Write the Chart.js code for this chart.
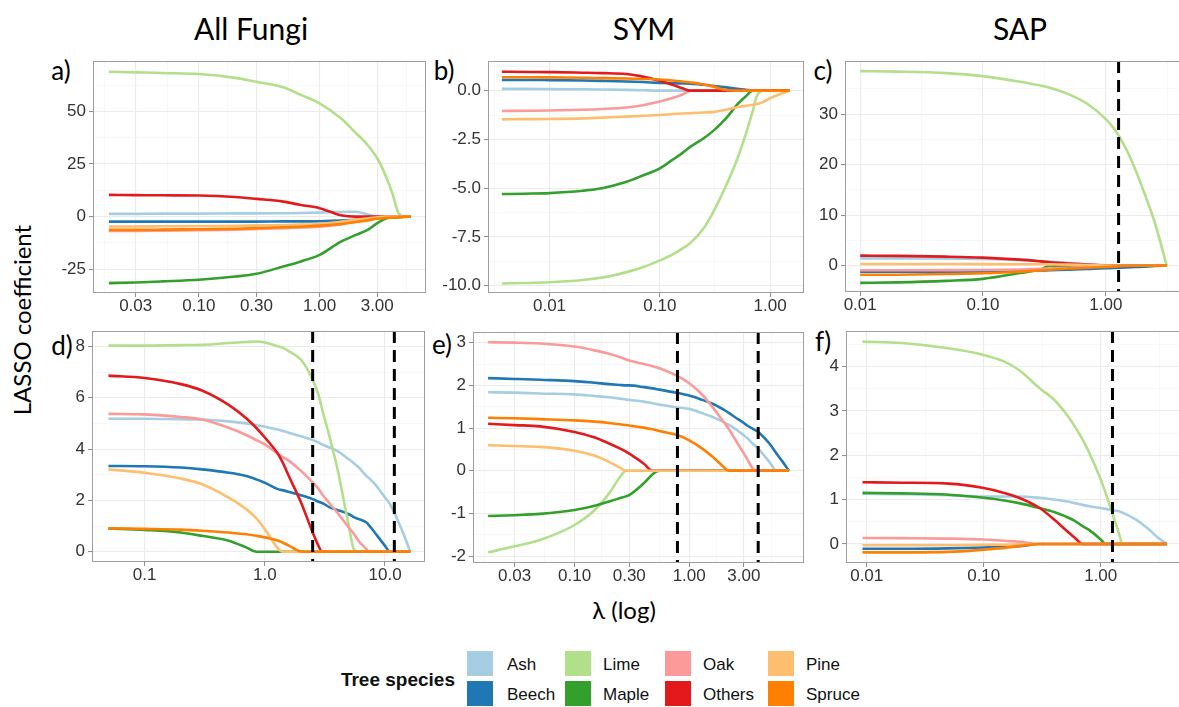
<!DOCTYPE html>
<html><head><meta charset="utf-8">
<script src="https://cdn.jsdelivr.net/npm/chart.js@4.4.1/dist/chart.umd.min.js"></script>
<style>
html,body{margin:0;padding:0;background:#fff;}
body{width:1179px;height:707px;position:relative;overflow:hidden;}
canvas{position:absolute;}
.t{position:absolute;transform:translate(-50%,-50%);white-space:nowrap;color:#000;line-height:1;}
.ttl{font-family:Lato,'Open Sans',sans-serif;font-size:30px;}
.pl{font-family:Lato,'Open Sans',sans-serif;font-size:26px;}
.ax{font-family:Lato,'Open Sans',sans-serif;font-size:24px;}
.lg{position:absolute;font-family:'Liberation Sans',Arial,sans-serif;font-size:17px;color:#111;line-height:1;transform:translateY(-50%);white-space:nowrap;}
.key{position:absolute;width:26px;height:25px;}
</style></head><body>

<div class="t ttl" style="left:251px;top:28px;">All Fungi</div>
<div class="t ttl" style="left:644px;top:28px;">SYM</div>
<div class="t ttl" style="left:1020px;top:28px;">SAP</div>
<div class="t pl" style="left:61px;top:70px;">a)</div>
<div class="t pl" style="left:444px;top:70px;">b)</div>
<div class="t pl" style="left:823px;top:70px;">c)</div>
<div class="t pl" style="left:62px;top:345px;">d)</div>
<div class="t pl" style="left:442px;top:344px;">e)</div>
<div class="t pl" style="left:823px;top:341px;">f)</div>
<div class="t ax" style="left:22px;top:320px;transform:translate(-50%,-50%) rotate(-90deg);">LASSO coefficient</div>
<div class="t ax" style="left:624px;top:610px;">λ (log)</div>
<div id="legend"></div>

<script>
// ---------- data ----------
const species = ['Ash','Beech','Lime','Maple','Oak','Others','Pine','Spruce'];
const colors  = ['#A6CEE3','#1F78B4','#B2DF8A','#33A02C','#FB9A99','#E31A1C','#FDBF6F','#FF7F00'];

// a) All Fungi (top)
const aLambda = [0.018,0.03,0.05,0.1,0.2,0.3,0.5,0.7,1.0,1.5,2.0,2.5,3.0,3.5,4.0,4.5,5.0,5.65];
const aAsh    = [1.3,1.3,1.4,1.4,1.5,1.5,1.6,1.7,1.9,2.2,2.3,1.0,0,0,0,0,0,0];
const aBeech  = [-2.4,-2.4,-2.4,-2.4,-2.4,-2.4,-2.3,-2.3,-2.2,-1.9,-1.5,-1.1,-0.7,-0.5,-0.3,-0.2,-0.1,0];
const aLime   = [68.8,68.5,68.2,67.7,65.9,64.0,61.4,57.8,53.8,46.7,39.6,34.0,27.7,19.8,11.1,1.6,0,0];
const aMaple  = [-31.6,-31.3,-30.8,-30.0,-28.5,-27.2,-23.7,-21.3,-18.2,-11.9,-8.7,-6.3,-3.1,-1.0,-0.5,-0.3,-0.1,0];
const aOak    = [-6.8,-6.8,-6.7,-6.5,-6.2,-5.9,-5.5,-5.2,-4.8,-3.7,-2.5,-1.4,-0.5,0,0,0,0,0];
const aOthers = [10.3,10.2,10.1,10.0,9.3,8.4,7.1,5.5,4.0,0.6,0,0,0,0,0,0,0,0];
const aPine   = [-4.7,-4.7,-4.6,-4.5,-4.4,-4.2,-4.0,-3.8,-3.5,-2.5,-1.5,-0.8,-0.3,0,0,0,0,0];
const aSpruce = [-6.3,-6.3,-6.2,-6.0,-5.8,-5.5,-5.1,-4.8,-4.3,-3.5,-2.6,-1.8,-1.0,-0.7,-0.5,-0.3,-0.15,0];
const aCut = [];

// b) SYM (top)
const bLambda = [0.0037,0.006,0.01,0.02,0.03,0.05,0.07,0.1,0.13,0.16,0.19,0.25,0.3,0.4,0.5,0.6,0.7,0.75,0.85,1.0,1.2,1.5];
const bAsh    = [0.09,0.09,0.08,0.07,0.06,0.04,0.02,0,0,0,0,0,0,0,0,0,0,0,0,0,0,0];
const bBeech  = [0.55,0.55,0.54,0.52,0.5,0.47,0.44,0.4,0.38,0.37,0.36,0.3,0.25,0.17,0.1,0.05,0.01,0,0,0,0,0];
const bLime   = [-9.88,-9.86,-9.82,-9.7,-9.58,-9.3,-9.05,-8.7,-8.4,-8.1,-7.8,-7.05,-6.3,-4.85,-3.55,-2.25,-1.0,-0.35,0,0,0,0];
const bMaple  = [-5.3,-5.28,-5.25,-5.13,-5.0,-4.67,-4.35,-3.98,-3.55,-3.2,-2.87,-2.44,-2.1,-1.41,-0.73,-0.3,0,0,0,0,0,0];
const bOak    = [-1.04,-1.03,-1.02,-0.98,-0.94,-0.86,-0.75,-0.56,-0.38,-0.2,0,0,0,0,0,0,0,0,0,0,0,0];
const bOthers = [0.97,0.96,0.95,0.92,0.9,0.85,0.72,0.51,0.3,0.12,0,0,0,0,0,0,0,0,0,0,0,0];
const bPine   = [-1.47,-1.46,-1.45,-1.42,-1.38,-1.33,-1.29,-1.25,-1.2,-1.17,-1.15,-1.12,-1.1,-0.98,-0.85,-0.78,-0.72,-0.7,-0.6,-0.39,-0.2,0];
const bSpruce = [0.69,0.69,0.68,0.66,0.64,0.62,0.6,0.57,0.52,0.47,0.42,0.32,0.22,0.03,0,0,0,0,0,0,0,0];
const bCut = [];

// c) SAP (top)
const cLambda = [0.01,0.02,0.05,0.1,0.2,0.3,0.35,0.5,0.7,1.0,1.15,1.3,1.6,2.0,2.5,3.13];
const cAsh    = [1.45,1.45,1.4,1.35,1.15,0.9,0.8,0.55,0.3,0.08,0,0,0,0,0,0];
const cBeech  = [-1.2,-1.2,-1.18,-1.15,-1.05,-0.95,-0.9,-0.8,-0.65,-0.5,-0.45,-0.4,-0.3,-0.2,-0.05,0];
const cLime   = [38.5,38.4,38.1,37.5,36.4,35.6,35.2,33.9,32.1,29.0,27.3,25.4,21.1,15.2,8.6,0];
const cMaple  = [-3.4,-3.3,-3.0,-2.6,-1.45,-0.65,0,0,0,0,0,0,0,0,0,0];
const cOak    = [-0.9,-0.9,-0.88,-0.85,-0.75,-0.62,-0.55,-0.4,-0.25,-0.05,0,0,0,0,0,0];
const cOthers = [2.0,1.95,1.8,1.6,1.2,0.85,0.7,0.45,0.25,0.05,0,0,0,0,0,0];
const cPine   = [0.33,0.33,0.33,0.32,0.3,0.28,0.26,0.22,0.15,0.05,0,0,0,0,0,0];
const cSpruce = [-1.8,-1.78,-1.65,-1.5,-1.2,-0.9,-0.8,-0.55,-0.4,-0.25,-0.18,-0.1,0,0,0,0];
const cCut = [1.27];

// d) All Fungi (bottom)
const dLambda = [0.05,0.1,0.2,0.3,0.5,0.7,0.85,1.0,1.3,1.4,1.6,2.0,2.5,2.8,3.0,3.5,4.0,5.0,5.5,6.0,7.0,7.3,8.0,10,11,13,15,16.2];
const dAsh    = [5.18,5.18,5.16,5.15,5.08,5.0,4.93,4.87,4.75,4.71,4.63,4.5,4.35,4.25,4.18,4.05,3.93,3.6,3.45,3.3,2.95,2.88,2.7,2.11,1.85,1.14,0.43,0];
const dBeech  = [3.34,3.33,3.28,3.21,3.08,2.95,2.82,2.69,2.43,2.4,2.33,2.2,2.05,1.95,1.9,1.72,1.63,1.46,1.35,1.28,1.14,1.05,0.82,0.23,0,0,0,0];
const dLime   = [8.03,8.03,8.05,8.06,8.13,8.17,8.19,8.15,8.0,7.95,7.8,7.48,6.7,6.1,5.54,4.38,3.27,1.0,0.1,0,0,0,0,0,0,0,0,0];
const dMaple  = [0.91,0.85,0.75,0.62,0.43,0.17,0,0,0,0,0,0,0,0,0,0,0,0,0,0,0,0,0,0,0,0,0,0];
const dOak    = [5.37,5.35,5.25,5.15,4.83,4.55,4.35,4.18,3.8,3.7,3.53,3.15,2.7,2.45,2.24,1.85,1.53,0.94,0.7,0.43,0.1,0,0,0,0,0,0,0];
const dOthers = [6.86,6.77,6.53,6.28,5.72,5.2,4.82,4.45,3.78,3.5,2.9,1.92,0.75,0.22,0,0,0,0,0,0,0,0,0,0,0,0,0,0];
const dPine   = [3.21,3.08,2.85,2.63,2.11,1.66,1.3,0.88,0.1,0,0,0,0,0,0,0,0,0,0,0,0,0,0,0,0,0,0,0];
const dSpruce = [0.91,0.89,0.86,0.82,0.75,0.68,0.62,0.56,0.43,0.36,0.23,0.01,0,0,0,0,0,0,0,0,0,0,0,0,0,0,0,0];
const dCut = [2.5, 11.95];

// e) SYM (bottom)
const eLambda = [0.0176,0.03,0.05,0.1,0.15,0.2,0.25,0.28,0.3,0.4,0.48,0.55,0.8,1.0,1.3,1.6,2.0,2.2,2.5,3.0,3.2,3.6,4.0,5.0,5.8,6.5,7.43];
const eAsh    = [1.84,1.83,1.81,1.79,1.75,1.72,1.69,1.67,1.66,1.62,1.58,1.55,1.48,1.45,1.35,1.26,1.14,1.08,0.99,0.83,0.77,0.63,0.52,0.21,0,0,0];
const eBeech  = [2.17,2.15,2.13,2.1,2.06,2.03,2.01,2.0,2.0,1.96,1.93,1.9,1.82,1.76,1.66,1.57,1.43,1.36,1.26,1.12,1.06,0.98,0.91,0.64,0.4,0.22,0];
const eLime   = [-1.91,-1.77,-1.62,-1.27,-0.92,-0.53,-0.14,0,0,0,0,0,0,0,0,0,0,0,0,0,0,0,0,0,0,0,0];
const eMaple  = [-1.06,-1.04,-1.01,-0.92,-0.82,-0.72,-0.64,-0.6,-0.57,-0.3,-0.08,0,0,0,0,0,0,0,0,0,0,0,0,0,0,0,0];
const eOak    = [3.01,3.0,2.98,2.91,2.82,2.74,2.66,2.61,2.58,2.5,2.45,2.4,2.21,2.05,1.78,1.49,1.14,0.99,0.75,0.4,0.28,0.05,0,0,0,0,0];
const eOthers = [1.1,1.07,1.04,0.91,0.78,0.64,0.52,0.45,0.4,0.17,0,0,0,0,0,0,0,0,0,0,0,0,0,0,0,0,0];
const ePine   = [0.6,0.58,0.56,0.47,0.35,0.21,0.07,0,0,0,0,0,0,0,0,0,0,0,0,0,0,0,0,0,0,0,0];
const eSpruce = [1.24,1.23,1.21,1.18,1.15,1.12,1.09,1.07,1.06,1.01,0.97,0.93,0.83,0.71,0.52,0.33,0.09,0,0,0,0,0,0,0,0,0,0];
const eCut = [0.79, 4.0];

// f) SAP (bottom)
const fLambda = [0.0092,0.02,0.05,0.1,0.15,0.2,0.3,0.4,0.5,0.6,0.7,0.8,1.0,1.1,1.2,1.4,1.55,2.0,2.5,3.0,3.67];
const fAsh    = [1.13,1.12,1.1,1.07,1.07,1.07,1.04,1.0,0.96,0.92,0.88,0.85,0.81,0.79,0.77,0.74,0.7,0.55,0.36,0.17,0];
const fBeech  = [-0.11,-0.11,-0.1,-0.08,-0.06,-0.05,0,0,0,0,0,0,0,0,0,0,0,0,0,0,0];
const fLime   = [4.56,4.53,4.41,4.26,4.11,3.92,3.51,3.25,2.95,2.65,2.35,2.05,1.45,1.15,0.85,0.32,0,0,0,0,0];
const fMaple  = [1.15,1.14,1.11,1.04,0.98,0.92,0.81,0.72,0.62,0.52,0.4,0.31,0.1,0,0,0,0,0,0,0,0];
const fOak    = [0.135,0.13,0.12,0.1,0.07,0.05,0,0,0,0,0,0,0,0,0,0,0,0,0,0,0];
const fOthers = [1.39,1.38,1.36,1.26,1.15,1.04,0.81,0.55,0.32,0.14,0,0,0,0,0,0,0,0,0,0,0];
const fPine   = [-0.03,-0.03,-0.03,-0.02,-0.02,-0.01,0,0,0,0,0,0,0,0,0,0,0,0,0,0,0];
const fSpruce = [-0.19,-0.19,-0.18,-0.13,-0.09,-0.05,0,0,0,0,0,0,0,0,0,0,0,0,0,0,0];
const fCut = [1.26];

// tick values and labels
const xTicks3 = [0.03,0.1,0.3,1,3];        const xLabels3 = ['0.03','0.10','0.30','1.00','3.00'];
const xTicks2 = [0.01,0.1,1];              const xLabels2 = ['0.01','0.10','1.00'];
const xTicksD = [0.1,1,10];                const xLabelsD = ['0.1','1.0','10.0'];
const yTicksA = [-25,0,25,50];             const yLabelsA = ['-25','0','25','50'];
const yTicksB = [-10,-7.5,-5,-2.5,0];      const yLabelsB = ['-10.0','-7.5','-5.0','-2.5','0.0'];
const yTicksC = [0,10,20,30];              const yLabelsC = ['0','10','20','30'];
const yTicksD = [0,2,4,6,8];               const yLabelsD = ['0','2','4','6','8'];
const yTicksE = [-2,-1,0,1,2,3];           const yLabelsE = ['-2','-1','0','1','2','3'];
const yTicksF = [0,1,2,3,4];               const yLabelsF = ['0','1','2','3','4'];

// ---------- panels ----------
const panels = [
  {lambda:aLambda, series:[aAsh,aBeech,aLime,aMaple,aOak,aOthers,aPine,aSpruce], cut:aCut,
   xr:[0.0133,7.6], yr:[-36.3,73.9], xt:xTicks3, xl:xLabels3, yt:yTicksA, yl:yLabelsA, box:[93,426,61,293]},
  {lambda:bLambda, series:[bAsh,bBeech,bLime,bMaple,bOak,bOthers,bPine,bSpruce], cut:bCut,
   xr:[0.00277,2.03], yr:[-10.37,1.52], xt:xTicks2, xl:xLabels2, yt:yTicksB, yl:yLabelsB, box:[488,804,61,293]},
  {lambda:cLambda, series:[cAsh,cBeech,cLime,cMaple,cOak,cOthers,cPine,cSpruce], cut:cCut,
   xr:[0.00752,4.17], yr:[-5.2,40.5], xt:xTicks2, xl:xLabels2, yt:yTicksC, yl:yLabelsC, box:[845,1182,61,292]},
  {lambda:dLambda, series:[dAsh,dBeech,dLime,dMaple,dOak,dOthers,dPine,dSpruce], cut:dCut,
   xr:[0.0365,21.5], yr:[-0.4,8.6], xt:xTicksD, xl:xLabelsD, yt:yTicksD, yl:yLabelsD, box:[92,425,331,562]},
  {lambda:eLambda, series:[eAsh,eBeech,eLime,eMaple,eOak,eOthers,ePine,eSpruce], cut:eCut,
   xr:[0.0130,10.04], yr:[-2.16,3.25], xt:xTicks3, xl:xLabels3, yt:yTicksE, yl:yLabelsE, box:[473,804,332,563]},
  {lambda:fLambda, series:[fAsh,fBeech,fLime,fMaple,fOak,fOthers,fPine,fSpruce], cut:fCut,
   xr:[0.00665,4.95], yr:[-0.43,4.8], xt:xTicks2, xl:xLabels2, yt:yTicksF, yl:yLabelsF, box:[846,1182,331,563]}
];

function logMinor(major, lo, hi){
  const ext = [major[0]*major[0]/major[1], ...major, major[major.length-1]*major[major.length-1]/major[major.length-2]];
  const out = [];
  for (let i=0;i<ext.length-1;i++){ const m = Math.sqrt(ext[i]*ext[i+1]); if (m>lo && m<hi) out.push(m); }
  return out;
}
function linMinor(major, lo, hi){
  const step = major[1]-major[0];
  const out = [];
  for (let v = major[0]-step/2; v < hi; v += step){ if (v>lo) out.push(v); }
  return out;
}
function tickList(major, labels, minor){
  const arr = major.map((v,i)=>({value:v, lbl:labels[i], minor:false}))
    .concat(minor.map(v=>({value:v, lbl:'', minor:true})));
  arr.sort((a,b)=>a.value-b.value);
  return arr;
}

const cutPlugin = {
  id:'cutlines',
  afterDatasetsDraw(chart, args, opts){
    const {ctx, chartArea:{top,bottom}} = chart;
    const xs = chart.scales.x;
    ctx.save();
    ctx.strokeStyle = '#000'; ctx.lineWidth = 3; ctx.setLineDash([12,7]);
    (opts.values||[]).forEach(v=>{
      const px = xs.getPixelForValue(v);
      ctx.beginPath(); ctx.moveTo(px, top); ctx.lineTo(px, bottom); ctx.stroke();
    });
    ctx.restore();
  },
  afterDraw(chart){
    const {ctx, chartArea:{left,right,top,bottom}} = chart;
    ctx.save();
    ctx.strokeStyle = '#9E9E9E'; ctx.lineWidth = 1;
    ctx.strokeRect(left+0.5, top+0.5, right-left-1, bottom-top-1);
    ctx.restore();
  }
};

const tickFont = {family:"'Liberation Sans', Arial, sans-serif", size:17, lineHeight:1};
const YW = 60, XH = 30, PT = 12, PR = 24;

panels.forEach(p=>{
  const [L,R,T,B] = p.box;
  const cl = L - YW, ct = T - PT;
  const cw = R - cl + PR, ch = B - ct + XH;
  const cv = document.createElement('canvas');
  cv.width = cw; cv.height = ch;
  cv.style.left = cl+'px'; cv.style.top = ct+'px';
  cv.style.width = cw+'px'; cv.style.height = ch+'px';
  document.body.appendChild(cv);

  const xT = tickList(p.xt, p.xl, logMinor(p.xt, p.xr[0], p.xr[1]));
  const yT = tickList(p.yt, p.yl, linMinor(p.yt, p.yr[0], p.yr[1]));

  const datasets = species.map((s,i)=>({
    label:s,
    data:p.lambda.map((x,k)=>({x:x, y:p.series[i][k]})),
    borderColor:colors[i], backgroundColor:colors[i],
    borderWidth:2.6, pointRadius:0, fill:false,
    cubicInterpolationMode:'monotone',
    order: species.length-1-i
  }));

  const gridCfg = {
    color: c => (c.tick && c.tick.minor) ? '#F3F3F3' : '#EBEBEB',
    lineWidth: c => (c.tick && c.tick.minor) ? 0.6 : 1.1,
    tickLength:4,
    tickColor: c => (c.tick && c.tick.minor) ? 'rgba(0,0,0,0)' : '#8A8A8A',
    tickWidth:1
  };

  new Chart(cv.getContext('2d'), {
    type:'line',
    data:{datasets},
    plugins:[cutPlugin],
    options:{
      responsive:false, animation:false, devicePixelRatio:1,
      layout:{padding:{top:PT,right:PR,left:0,bottom:0}},
      plugins:{legend:{display:false}, tooltip:{enabled:false}, cutlines:{values:p.cut}},
      scales:{
        x:{type:'logarithmic', min:p.xr[0], max:p.xr[1], bounds:'data',
           afterBuildTicks: s => { s.ticks = xT.map(t=>Object.assign({},t)); },
           afterFit: s => { s.height = XH; },
           ticks:{autoSkip:false, maxRotation:0, minRotation:0, padding:1, color:'#333', font:tickFont,
                  callback:(v,i,t)=> t[i].lbl},
           grid:gridCfg, border:{display:false}},
        y:{type:'linear', min:p.yr[0], max:p.yr[1], bounds:'data',
           afterBuildTicks: s => { s.ticks = yT.map(t=>Object.assign({},t)); },
           afterFit: s => { s.width = YW; },
           ticks:{autoSkip:false, padding:3, color:'#333', font:tickFont,
                  callback:(v,i,t)=> t[i].lbl},
           grid:gridCfg, border:{display:false}}
      }
    }
  });
});

// ---------- legend ----------
const lg = document.getElementById('legend');
const hdr = document.createElement('div');
hdr.className = 'lg';
hdr.style.cssText = 'right:'+(1179-455)+'px;top:679px;font-weight:bold;font-size:19px;';
hdr.textContent = 'Tree species';
lg.appendChild(hdr);
const colKeyX = [467,565,665,768], colTxtX = [507,603,703,806], rowTop = [651,681];
species.forEach((s,i)=>{
  const col = Math.floor(i/2), row = i%2;
  const k = document.createElement('div');
  k.className = 'key';
  k.style.left = colKeyX[col]+'px'; k.style.top = rowTop[row]+'px'; k.style.background = colors[i];
  lg.appendChild(k);
  const t = document.createElement('div');
  t.className = 'lg';
  t.style.left = colTxtX[col]+'px'; t.style.top = (rowTop[row]+12.5)+'px';
  t.textContent = s;
  lg.appendChild(t);
});
</script>
</body></html>
